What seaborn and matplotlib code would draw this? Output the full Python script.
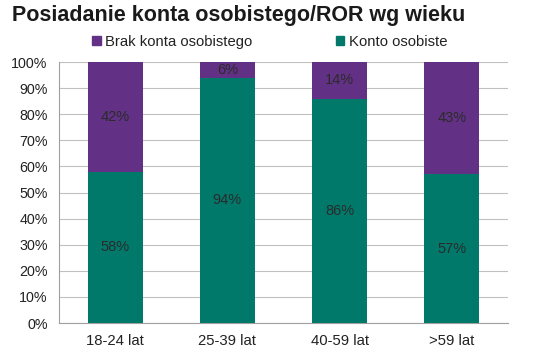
import pandas as pd
import seaborn as sns
import matplotlib.pyplot as plt
from matplotlib.patches import Patch

kategorie = ["18-24 lat", "25-39 lat", "40-59 lat", ">59 lat"]
konto = [58, 94, 86, 57]
brak_konta = [42, 6, 14, 43]

kolor_konto = "#00796b"
kolor_brak = "#623185"

tabela = pd.DataFrame({"wiek": kategorie, "konto": konto, "brak": brak_konta})
tabela["razem"] = tabela["konto"] + tabela["brak"]

sns.set_style("white")
plt.rcParams["font.family"] = ["Liberation Sans", "DejaVu Sans"]

fig = plt.figure(figsize=(5.4, 3.55), dpi=100)
ax = fig.add_axes([0.109, 0.090, 0.832, 0.735])

# purple = total, teal drawn on top
sns.barplot(data=tabela, x="wiek", y="razem", color=kolor_brak, width=0.49,
            saturation=1, ax=ax, zorder=3, linewidth=0)
sns.barplot(data=tabela, x="wiek", y="konto", color=kolor_konto, width=0.49,
            saturation=1, ax=ax, zorder=3, linewidth=0)

for i, row in tabela.iterrows():
    ax.text(i, row["konto"] / 2, f"{row['konto']}%", ha="center", va="center",
            fontsize=10.5, color="#2b2b2b", zorder=4)
    ax.text(i, row["konto"] + row["brak"] / 2, f"{row['brak']}%", ha="center",
            va="center", fontsize=10.5, color="#2b2b2b", zorder=4)

ax.set_ylim(0, 100)
ax.set_xlim(-0.5, 3.5)
ax.set_yticks(range(0, 101, 10))
ax.set_yticklabels([f"{v}%" for v in range(0, 101, 10)], fontsize=10.3, color="#222222")
ax.set_xticks(range(4))
ax.set_xticklabels(kategorie, fontsize=10.7, color="#222222")
ax.set_xticks([-0.5, 0.5, 1.5, 2.5, 3.5], minor=True)
ax.tick_params(axis="x", which="major", length=0, pad=8)
ax.tick_params(axis="x", which="minor", length=5, color="#a0a0a0", width=0.8)
ax.tick_params(axis="y", length=4, color="#a0a0a0", width=0.8, pad=4)
ax.set_xlabel("")
ax.set_ylabel("")

ax.yaxis.grid(True, color="#c0c0c0", linewidth=0.8, zorder=0)
ax.set_axisbelow(True)
for s in ["top", "right"]:
    ax.spines[s].set_visible(False)
for s in ["left", "bottom"]:
    ax.spines[s].set_color("#a0a0a0")
    ax.spines[s].set_linewidth(0.8)

fig.text(0.022, 0.955, "Posiadanie konta osobistego/ROR wg wieku", fontsize=15.5,
         fontweight="bold", color="#1a1a1a", va="center", ha="left")

uchwyty = [Patch(color=kolor_brak, label="Brak konta osobistego"),
           Patch(color=kolor_konto, label="Konto osobiste")]
fig.legend(handles=uchwyty, loc="center left", bbox_to_anchor=(0.145, 0.883), ncol=2,
           frameon=False, fontsize=10.7, handlelength=0.6, handleheight=0.6,
           handletextpad=0.3, columnspacing=5.6, labelcolor="#222222")

fig.savefig("out.png", dpi=100)
